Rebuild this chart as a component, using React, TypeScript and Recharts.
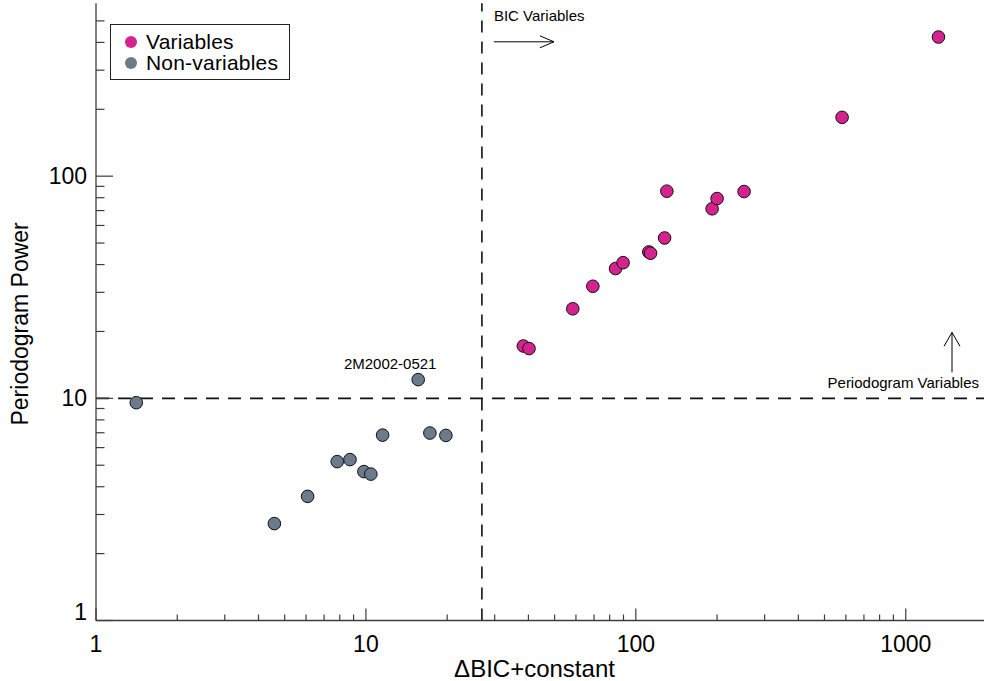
import React from 'react';
import {
  ScatterChart,
  Scatter,
  XAxis,
  YAxis,
  ReferenceLine,
  ReferenceDot,
  Legend,
} from 'recharts';

// ---- data ----
const variablesBIC = [38.3, 40.2, 58.4, 69.3, 84.1, 89.7, 111.7, 113.4, 127.8, 130.3, 191.7, 200, 251.8, 581, 1322];
const variablesPower = [17.2, 16.75, 25.3, 31.95, 38.4, 40.8, 45.6, 45.0, 52.7, 85.6, 71.3, 79.3, 85.3, 184, 423];

const nonVariablesBIC = [1.41, 15.62, 4.58, 6.08, 7.83, 8.73, 9.83, 10.43, 11.53, 17.26, 19.78];
const nonVariablesPower = [9.56, 12.14, 2.73, 3.62, 5.19, 5.3, 4.68, 4.56, 6.83, 6.98, 6.81];

const xTicks = [1, 2, 3, 4, 5, 6, 7, 8, 9, 10, 20, 30, 40, 50, 60, 70, 80, 90, 100, 200, 300, 400, 500, 600, 700, 800, 900, 1000];
const yTicks = [1, 2, 3, 4, 5, 6, 7, 8, 9, 10, 20, 30, 40, 50, 60, 70, 80, 90, 100, 200, 300, 400, 500];
const majorTicks = [1, 10, 100, 1000];

const xDomain = [1, 2000];
const yDomain = [1, 600];

const bicThreshold = 26.9;
const powerThreshold = 10;
const labelledStar = { name: '2M2002-0521', x: 15.62, y: 12.14 };

const seriesNames = ['Variables', 'Non-variables'];
const xTitle = 'ΔBIC+constant';
const yTitle = 'Periodogram Power';

const PINK = '#d4238f';
const GRAY = '#6c7b8b';
const AXIS = '#3c3c3c';
const FONT = '"Liberation Sans", Arial, Helvetica, sans-serif';

const variablesData = variablesBIC.map((x, i) => ({ x, y: variablesPower[i] }));
const nonVariablesData = nonVariablesBIC.map((x, i) => ({ x, y: nonVariablesPower[i] }));

const isMajor = (v: number) => majorTicks.includes(v);

const BottomTick = (props: any) => {
  const { x, y, payload } = props;
  const v = payload.value;
  const len = isMajor(v) ? 12 : 6;
  return (
    <g>
      <line x1={x} x2={x} y1={y} y2={y - len} stroke={AXIS} strokeWidth={1.2} />
      {isMajor(v) && (
        <text x={x} y={y + 31} textAnchor="middle" fontSize={23} fill="#000" fontFamily={FONT}>
          {v}
        </text>
      )}
    </g>
  );
};

const TopTick = (props: any) => {
  const { x, y, payload } = props;
  const v = payload.value;
  const len = isMajor(v) ? 12 : 6;
  return <line x1={x} x2={x} y1={y} y2={y + len} stroke={AXIS} strokeWidth={1.2} />;
};

const LeftTick = (props: any) => {
  const { x, y, payload } = props;
  const v = payload.value;
  const len = isMajor(v) ? 17 : 8.5;
  return (
    <g>
      <line x1={x} x2={x + len} y1={y} y2={y} stroke={AXIS} strokeWidth={1.2} />
      {isMajor(v) && (
        <text x={x - 9} y={v === 1 ? y - 1 : y + 8} textAnchor="end" fontSize={23} fill="#000" fontFamily={FONT}>
          {v}
        </text>
      )}
    </g>
  );
};

const RightTick = (props: any) => {
  const { x, y, payload } = props;
  const v = payload.value;
  const len = isMajor(v) ? 17 : 8.5;
  return <line x1={x} x2={x - len} y1={y} y2={y} stroke={AXIS} strokeWidth={1.2} />;
};

const XTitle = (props: any) => {
  const vb = props.viewBox || { x: 96, y: 620.5, width: 891, height: 60.5 };
  return (
    <text
      x={vb.x + vb.width / 2 - 7}
      y={vb.y + 56}
      textAnchor="middle"
      fontSize={24}
      fill="#000"
      fontFamily={FONT}
    >
      {xTitle}
    </text>
  );
};

const YTitle = (props: any) => {
  const vb = props.viewBox || { x: 0, y: 3.3, width: 96, height: 617.2 };
  const tx = vb.x + 28.5;
  const ty = vb.y + vb.height / 2 + 12;
  return (
    <text
      x={tx}
      y={ty}
      transform={`rotate(-90, ${tx}, ${ty})`}
      textAnchor="middle"
      fontSize={23}
      fill="#000"
      fontFamily={FONT}
    >
      {yTitle}
    </text>
  );
};

const dot = (fill: string) => (props: any) => (
  <circle cx={props.cx} cy={props.cy} r={6.3} fill={fill} stroke="#111" strokeWidth={1} />
);

const StarLabel = (props: any) => (
  <text x={props.cx - 28} y={props.cy - 11} textAnchor="middle" fontSize={15} fontFamily={FONT} fill="#000">
    {labelledStar.name}
  </text>
);

const BicNote = (props: any) => {
  const { cx, cy } = props;
  const ay = cy + 38.5;
  return (
    <g>
      <text x={cx + 12} y={cy + 18} fontSize={15} fontFamily={FONT} fill="#000">BIC Variables</text>
      <line x1={cx + 12} x2={cx + 72} y1={ay} y2={ay} stroke="#000" strokeWidth={1} />
      <polyline points={`${cx + 58},${ay - 6} ${cx + 72},${ay} ${cx + 58},${ay + 6}`} fill="none" stroke="#000" strokeWidth={1} />
    </g>
  );
};

const PeriodNote = (props: any) => {
  const { cx, cy } = props;
  const ax = cx - 35;
  return (
    <g>
      <text x={cx - 8} y={cy - 10} textAnchor="end" fontSize={15} fontFamily={FONT} fill="#000">Periodogram Variables</text>
      <line x1={ax} x2={ax} y1={cy - 26} y2={cy - 66} stroke="#000" strokeWidth={1} />
      <polyline points={`${ax - 8},${cy - 52} ${ax},${cy - 66} ${ax + 8},${cy - 52}`} fill="none" stroke="#000" strokeWidth={1} />
    </g>
  );
};

const LegendBox = () => (
  <div
    style={{
      border: '1.3px solid #222',
      background: '#fff',
      width: 180,
      height: 56,
      boxSizing: 'border-box',
      padding: '6px 0 0 14px',
      fontFamily: FONT,
      fontSize: 21,
      lineHeight: '21px',
      color: '#000',
      textAlign: 'left',
    }}
  >
    {seriesNames.map((n, i) => (
      <div key={n} style={{ display: 'flex', alignItems: 'center', height: 21 }}>
        <span
          style={{
            display: 'inline-block',
            width: 12,
            height: 12,
            borderRadius: 6,
            background: i === 0 ? PINK : GRAY,
            marginRight: 9,
          }}
        />
        <span style={{ letterSpacing: 0.2 }}>{n}</span>
      </div>
    ))}
  </div>
);

export default function App() {
  return (
    <div
      style={{
        position: 'absolute',
        left: 0,
        top: 0,
        width: 984,
        height: 681,
        overflow: 'hidden',
        background: '#fff',
        fontFamily: FONT,
      }}
    >
      <ScatterChart width={990} height={681} margin={{ top: 3.3, right: 3, bottom: 0, left: 0 }}>
        <XAxis
          xAxisId="b"
          dataKey="x"
          type="number"
          scale="log"
          domain={xDomain}
          allowDataOverflow
          ticks={xTicks}
          interval={0}
          height={60.5}
          tickSize={0}
          tickMargin={0}
          tick={<BottomTick />}
          tickLine={false}
          axisLine={{ stroke: AXIS, strokeWidth: 1.3 }}
          label={(p: any) => <XTitle {...p} />}
        />
        <XAxis
          xAxisId="t"
          orientation="top"
          dataKey="x"
          type="number"
          scale="log"
          domain={xDomain}
          allowDataOverflow
          ticks={xTicks}
          interval={0}
          height={0}
          tickSize={0}
          tickMargin={0}
          tick={<TopTick />}
          tickLine={false}
          axisLine={{ stroke: AXIS, strokeWidth: 1.3 }}
        />
        <YAxis
          yAxisId="l"
          dataKey="y"
          type="number"
          scale="log"
          domain={yDomain}
          allowDataOverflow
          ticks={yTicks}
          interval={0}
          width={96}
          tickSize={0}
          tickMargin={0}
          tick={<LeftTick />}
          tickLine={false}
          axisLine={{ stroke: AXIS, strokeWidth: 1.3 }}
          label={(p: any) => <YTitle {...p} />}
        />
        <YAxis
          yAxisId="r"
          orientation="right"
          dataKey="y"
          type="number"
          scale="log"
          domain={yDomain}
          allowDataOverflow
          ticks={yTicks}
          interval={0}
          width={0}
          tickSize={0}
          tickMargin={0}
          tick={<RightTick />}
          tickLine={false}
          axisLine={{ stroke: AXIS, strokeWidth: 1.3 }}
        />
        <ReferenceLine
          xAxisId="b"
          yAxisId="l"
          x={bicThreshold}
          stroke="#111"
          strokeWidth={1.6}
          strokeDasharray="12 9"
        />
        <ReferenceLine
          xAxisId="b"
          yAxisId="l"
          y={powerThreshold}
          stroke="#111"
          strokeWidth={1.6}
          strokeDasharray="13 9"
        />
        <Scatter
          name={seriesNames[0]}
          data={variablesData}
          xAxisId="b"
          yAxisId="l"
          fill={PINK}
          shape={dot(PINK)}
          isAnimationActive={false}
        />
        <Scatter
          name={seriesNames[1]}
          data={nonVariablesData}
          xAxisId="b"
          yAxisId="l"
          fill={GRAY}
          shape={dot(GRAY)}
          isAnimationActive={false}
        />
        <ReferenceDot
          xAxisId="b"
          yAxisId="l"
          x={labelledStar.x}
          y={labelledStar.y}
          r={0}
          ifOverflow="visible"
          shape={StarLabel}
        />
        <ReferenceDot
          xAxisId="b"
          yAxisId="l"
          x={bicThreshold}
          y={yDomain[1]}
          r={0}
          ifOverflow="visible"
          shape={BicNote}
        />
        <ReferenceDot
          xAxisId="b"
          yAxisId="l"
          x={xDomain[1]}
          y={powerThreshold}
          r={0}
          ifOverflow="visible"
          shape={PeriodNote}
        />
        <Legend
          layout="vertical"
          align="center"
          verticalAlign="middle"
          wrapperStyle={{ left: 110, top: 24, width: 180, height: 56 }}
          content={() => <LegendBox />}
        />
      </ScatterChart>
    </div>
  );
}
